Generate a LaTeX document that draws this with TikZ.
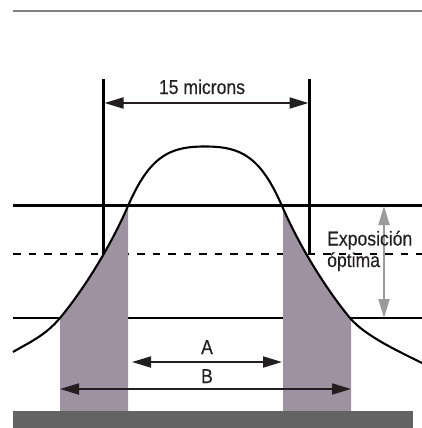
\documentclass[tikz,border=0pt]{standalone}
\usepackage{fontspec}
\setmainfont{Liberation Sans}[FakeStretch=0.88, FakeBold=0.3]
\usepackage{xcolor}
\usetikzlibrary{arrows.meta}
\definecolor{resist}{RGB}{158,146,162}
\definecolor{wafer}{RGB}{99,99,99}
\definecolor{rulegray}{RGB}{128,128,128}
\definecolor{rangegray}{RGB}{155,155,158}
\definecolor{ink}{RGB}{35,31,32}
\newcommand{\bellcurve}{(13,352) .. controls (28,343) and (45,336) .. (60,318)
    .. controls (80,294) and (108,252) .. (128,206)
    .. controls (150,155.4) and (170,146.5) .. (205,146.5)
    .. controls (240,146.5) and (260,155.4) .. (282,206)
    .. controls (302,252) and (330,294) .. (350,318)
    .. controls (365,336) and (400,352) .. (422,363)}

\begin{document}
\begin{tikzpicture}[
    x=1pt, y=-1pt,
    line/.style={draw, line width=2.1pt},
    dim/.style={{Triangle[length=19pt,width=11pt]}-{Triangle[length=19pt,width=11pt]}, line width=2pt},
    lbl/.style={font=\fontsize{20}{20}\selectfont, text=ink, inner sep=0pt, anchor=base}
]
    \useasboundingbox (0,0) rectangle (422,428);

    % Top rule
    \draw[line, rulegray, line width=2pt] (13,11) -- (422,11);

    % Exposure levels
    \draw[line] (13,205.5) -- (422,205.5);
    \draw[line, dash pattern=on 7.5pt off 8pt] (13,254) -- (422,254);
    \draw[line] (13,318) -- (422,318);

    % Width markers
    \draw[line] (103.5,79) -- (103.5,254);
    \draw[line] (309.5,79) -- (309.5,254);

    % Resist walls under the curve
    \begin{scope}
        \clip (60,0) rectangle (128,411) (283,0) rectangle (351,411);
        \fill[resist] \bellcurve -- (422,428) -- (13,428) -- cycle;
    \end{scope}
    \draw[line] \bellcurve;

    % Wafer
    \fill[wafer] (13,411) rectangle (413,428);

    % Dimensions
    \coordinate (micL) at (104.5,103);
    \coordinate (micR) at (308.5,103);
    \coordinate (aL) at (132,362);
    \coordinate (aR) at (282,362);
    \coordinate (bL) at (60,389);
    \coordinate (bR) at (351,389);
    \coordinate (expT) at (384,206);
    \coordinate (expB) at (384,318);
    \draw[dim, ink] (micL) -- (micR);
    \draw[dim, ink] (aL) -- (aR);
    \draw[dim, ink] (bL) -- (bR);
    \draw[dim, rangegray] (expT) -- (expB);

    \node[lbl] (mic) at (202,94) {15 microns};
    \node[lbl] (A) at (207,354) {A};
    \node[lbl] (B) at (207,383) {B};
    \node[lbl, anchor=base west] (expo) at (327,245.5) {Exposición};
    \node[lbl, anchor=base west] (opt) at (327,267) {óptima};
\end{tikzpicture}
\end{document}
